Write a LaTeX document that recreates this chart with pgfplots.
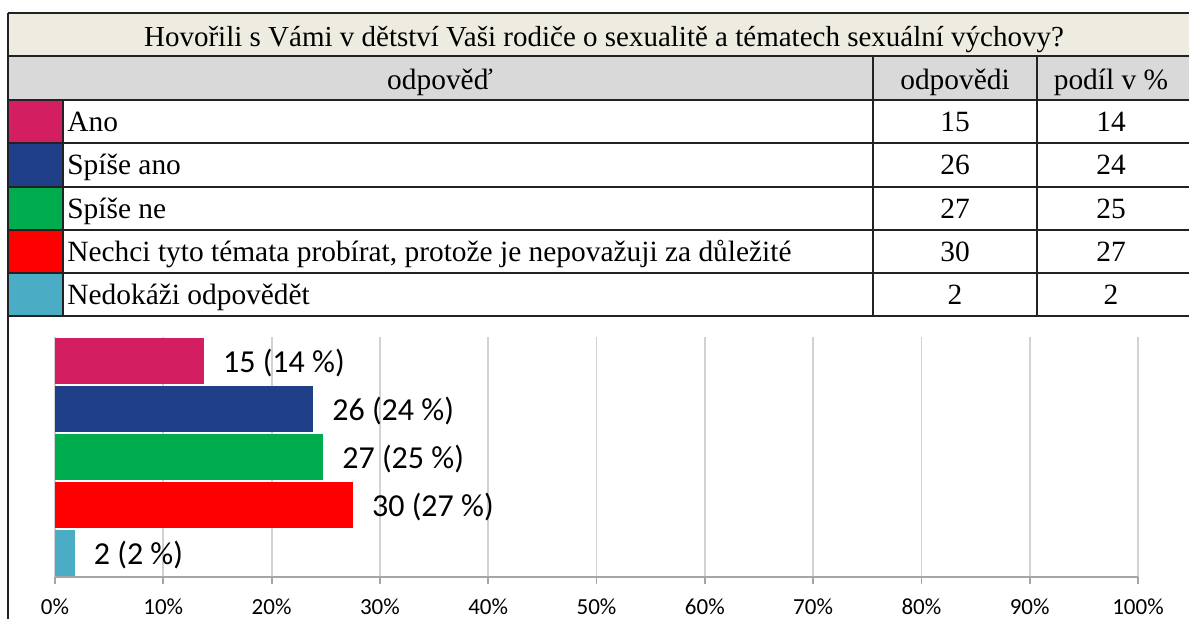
\documentclass[border=0pt]{standalone}
\usepackage{pgfplots}
\pgfplotsset{compat=1.18}
\usepackage{fontspec}
\setmainfont{Liberation Serif}
\newfontfamily\calibri{Carlito}
\definecolor{cAno}{HTML}{D41E62}
\definecolor{cSA}{HTML}{1F3F88}
\definecolor{cSN}{HTML}{00AD4E}
\definecolor{cNe}{HTML}{FF0000}
\definecolor{cND}{HTML}{4BACC6}
\definecolor{titlebg}{HTML}{EEECE1}
\definecolor{headbg}{HTML}{D9D9D9}
\definecolor{tline}{HTML}{222222}
\begin{document}
\begin{tikzpicture}[x=0.5pt,y=-0.5pt]
\path[use as bounding box] (0,0) rectangle (1189,619);
\begin{scope}
\clip (0,0) rectangle (1189,619);
\fill[titlebg] (8,13) rectangle (1200,56);
\fill[headbg] (8,56) rectangle (1200,100);
\fill[cAno] (8,100) rectangle (63,143);
\fill[cSA] (8,143) rectangle (63,187);
\fill[cSN] (8,187) rectangle (63,230);
\fill[cNe] (8,230) rectangle (63,273);
\fill[cND] (8,273) rectangle (63,316);
\begin{scope}[draw=tline, line width=1pt]
\foreach \yy in {13,56,100,143,187,230,273,316} \draw (8,\yy) -- (1200,\yy);
\draw (8,13) -- (8,625);
\draw (63,100) -- (63,316);
\draw (873,56) -- (873,316);
\draw (1037,56) -- (1037,316);
\end{scope}
\end{scope}
\begin{scope}[every node/.style={font=\fontsize{14.7}{17}\selectfont, inner sep=0pt}]
\node[anchor=base, font=\fontsize{14.5}{17}\selectfont] at (604,47) {Hovořili s Vámi v dětství Vaši rodiče o sexualitě a tématech sexuální výchovy?};
\node[anchor=base] at (440,90) {odpověď};
\node[anchor=base] at (955,90) {odpovědi};
\node[anchor=base] at (1111,90) {podíl v \%};
\node[anchor=base west] at (67,132) {Ano};
\node[anchor=base west] at (67,175) {Spíše ano};
\node[anchor=base west] at (67,218.5) {Spíše ne};
\node[anchor=base west] at (67,261.5) {Nechci tyto témata probírat, protože je nepovažuji za důležité};
\node[anchor=base west] at (67,304.5) {Nedokáži odpovědět};
\node[anchor=base] at (955,132) {15}; \node[anchor=base] at (1111,132) {14};
\node[anchor=base] at (955,175) {26}; \node[anchor=base] at (1111,175) {24};
\node[anchor=base] at (955,218.5) {27}; \node[anchor=base] at (1111,218.5) {25};
\node[anchor=base] at (955,261.5) {30}; \node[anchor=base] at (1111,261.5) {27};
\node[anchor=base] at (955,304.5) {2}; \node[anchor=base] at (1111,304.5) {2};
\end{scope}
\begin{axis}[
  at={(27.5pt,-288.5pt)}, anchor=south west,
  scale only axis, width=541.5pt, height=120pt,
  xmin=0, xmax=100, ymin=0.5, ymax=5.5, y dir=reverse,
  xbar, bar width=22.8pt, bar shift=0pt,
  axis x line*=bottom, axis y line=none,
  axis line style={draw=gray!70, line width=0.9pt},
  xtick={0,10,...,100},
  xticklabels={0\%,10\%,20\%,30\%,40\%,50\%,60\%,70\%,80\%,90\%,100\%},
  xtick align=outside, major tick length=3.5pt,
  tick style={draw=gray!70, line width=0.9pt},
  xmajorgrids, grid style={draw=gray!35, line width=0.9pt},
  ytick=\empty,
  xticklabel style={font=\calibri\fontsize{11.5}{13}\selectfont, yshift=-4pt},
  clip=false,
  point meta=explicit symbolic,
  nodes near coords,
  nodes near coords style={font=\calibri\fontsize{16}{18}\selectfont, anchor=west, xshift=6pt, yshift=-1pt, text=black},
]
\addplot[fill=cAno, draw=none] coordinates {(13.76,1) [15 (14 \%)]};
\addplot[fill=cSA, draw=none] coordinates {(23.85,2) [26 (24 \%)]};
\addplot[fill=cSN, draw=none] coordinates {(24.77,3) [27 (25 \%)]};
\addplot[fill=cNe, draw=none] coordinates {(27.52,4) [30 (27 \%)]};
\addplot[fill=cND, draw=none] coordinates {(1.83,5) [2 (2 \%)]};
\end{axis}
\end{tikzpicture}
\end{document}
